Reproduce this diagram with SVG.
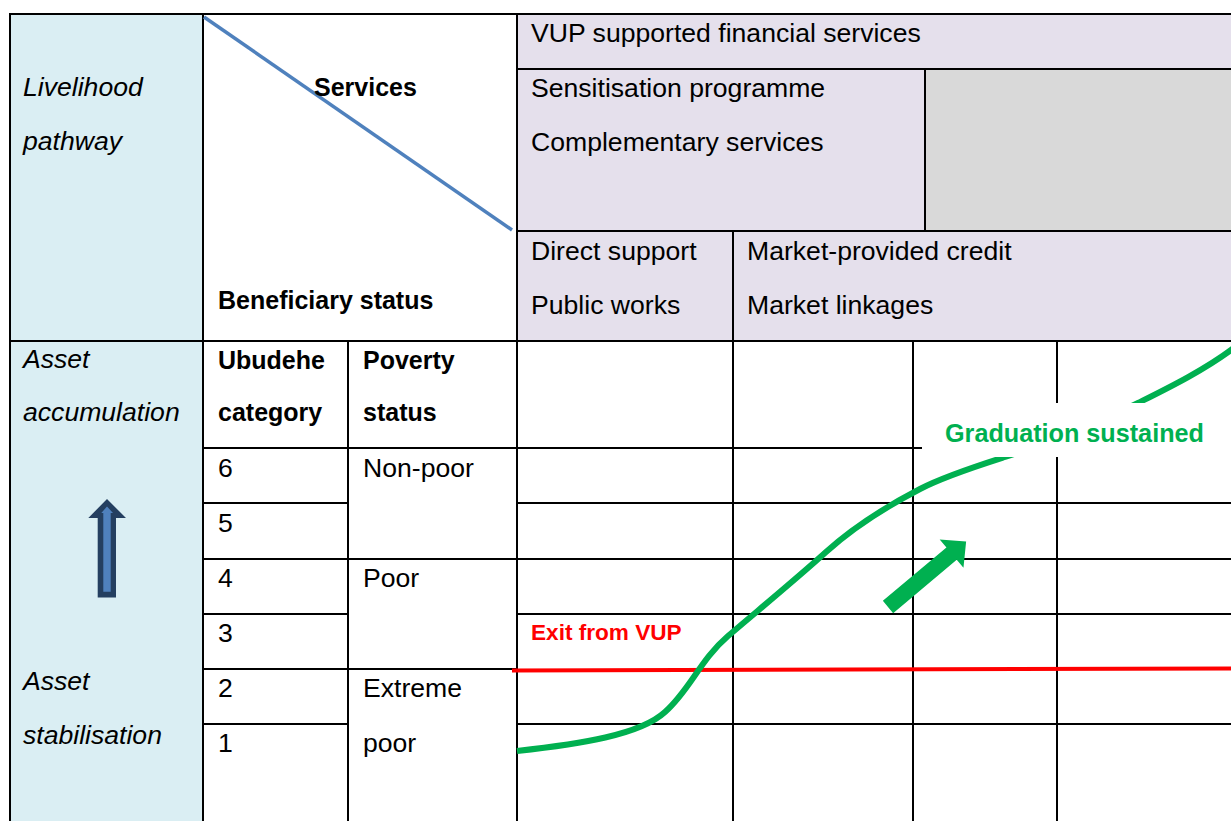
<svg xmlns="http://www.w3.org/2000/svg" width="1231" height="821" viewBox="0 0 1231 821">
  <style>
    .t { font-family: "Liberation Sans", Arial, sans-serif; font-size: 26.6px; fill: #000; }
    .i { font-style: italic; }
    .b { font-weight: bold; font-size: 25px; }
    .grid line { stroke: #000; stroke-width: 2; }
  </style>
  <rect width="1231" height="821" fill="#fff"/>

  <!-- cell fills -->
  <g id="fills">
    <rect x="10" y="14" width="193" height="807" fill="#daeef3"/>
    <rect x="517" y="14" width="714" height="327" fill="#e5e0ec"/>
    <rect x="925" y="69" width="306" height="162" fill="#d9d9d9"/>
  </g>

  <!-- table rules -->
  <g id="grid" class="grid">
    <line x1="9" y1="14" x2="1231" y2="14"/>
    <line x1="517" y1="69" x2="1231" y2="69"/>
    <line x1="517" y1="231" x2="1231" y2="231"/>
    <line x1="9" y1="341" x2="1231" y2="341"/>
    <line x1="203" y1="448" x2="1231" y2="448"/>
    <line x1="203" y1="503" x2="348" y2="503"/>
    <line x1="517" y1="503" x2="1231" y2="503"/>
    <line x1="203" y1="559" x2="1231" y2="559"/>
    <line x1="203" y1="614" x2="348" y2="614"/>
    <line x1="517" y1="614" x2="1231" y2="614"/>
    <line x1="203" y1="669" x2="517" y2="669"/>
    <line x1="203" y1="724" x2="348" y2="724"/>
    <line x1="517" y1="724" x2="1231" y2="724"/>
    <line x1="10" y1="14" x2="10" y2="821"/>
    <line x1="203" y1="14" x2="203" y2="821"/>
    <line x1="348" y1="341" x2="348" y2="821"/>
    <line x1="517" y1="14" x2="517" y2="821"/>
    <line x1="925" y1="69" x2="925" y2="231"/>
    <line x1="733" y1="231" x2="733" y2="821"/>
    <line x1="913" y1="341" x2="913" y2="821"/>
    <line x1="1057" y1="341" x2="1057" y2="821"/>
  </g>

  <!-- diagonal split of the corner cell -->
  <line id="corner-diagonal" x1="204" y1="17" x2="512" y2="230" stroke="#4f81bd" stroke-width="3.5"/>

  <!-- header texts -->
  <g id="header">
    <text class="t i" x="23" y="96">Livelihood</text>
    <text class="t i" x="23" y="150">pathway</text>
    <text class="t b" x="314" y="96">Services</text>
    <text class="t b" x="218" y="309">Beneficiary status</text>
    <text class="t" x="531" y="42">VUP supported financial services</text>
    <text class="t" x="531" y="97">Sensitisation programme</text>
    <text class="t" x="531" y="151">Complementary services</text>
    <text class="t" x="531" y="260">Direct support</text>
    <text class="t" x="531" y="314">Public works</text>
    <text class="t" x="747" y="260">Market-provided credit</text>
    <text class="t" x="747" y="314">Market linkages</text>
  </g>

  <!-- row labels -->
  <g id="rows">
    <text class="t i" x="23" y="368">Asset</text>
    <text class="t i" x="23" y="421">accumulation</text>
    <text class="t i" x="23" y="690">Asset</text>
    <text class="t i" x="23" y="744">stabilisation</text>
    <text class="t b" x="218" y="369">Ubudehe</text>
    <text class="t b" x="218" y="421">category</text>
    <text class="t b" x="363" y="369">Poverty</text>
    <text class="t b" x="363" y="421">status</text>
    <text class="t" x="218" y="477">6</text>
    <text class="t" x="218" y="532">5</text>
    <text class="t" x="218" y="587">4</text>
    <text class="t" x="218" y="642">3</text>
    <text class="t" x="218" y="697">2</text>
    <text class="t" x="218" y="752">1</text>
    <text class="t" x="363" y="477">Non-poor</text>
    <text class="t" x="363" y="587">Poor</text>
    <text class="t" x="363" y="697">Extreme</text>
    <text class="t" x="363" y="752">poor</text>
  </g>

  <!-- upward arrow in the pathway column -->
  <g id="pathway-arrow">
    <polygon points="107,499 126,518 116,518 116,597.5 97.7,597.5 97.7,518 88.3,518" fill="#243f60"/>
    <polygon points="107,506.5 113,513 110.7,513 110.7,591.7 103.3,591.7 103.3,513 101.3,513" fill="#4f81bd"/>
  </g>

  <!-- exit threshold -->
  <g id="exit">
    <line x1="512" y1="670.5" x2="1231" y2="668.5" stroke="#ff0000" stroke-width="4"/>
    <text class="t" x="531" y="640" font-weight="bold" style="fill:#ff0000;font-size:22.6px">Exit from VUP</text>
  </g>

  <!-- graduation curve -->
  <g id="graduation">
    <path d="M517,751 C580,744 640,735 665,712 C690,690 700,660 728,636 C756,612 795,580 826,552 S895,502 920,489 S980,465 1005,457 S1110,417 1138,403 S1205,370 1235,347" fill="none" stroke="#00b050" stroke-width="6"/>
    <rect x="922" y="403" width="309" height="54" fill="#fff"/>
    <text class="t" x="945" y="442" font-weight="bold" style="fill:#00b050;font-size:25.2px">Graduation sustained</text>
    <polygon transform="translate(888,607) rotate(-40)" points="0,-8 83,-8 83,-18.5 102,0 83,18.5 83,8 0,8" fill="#00b050"/>
  </g>
</svg>
